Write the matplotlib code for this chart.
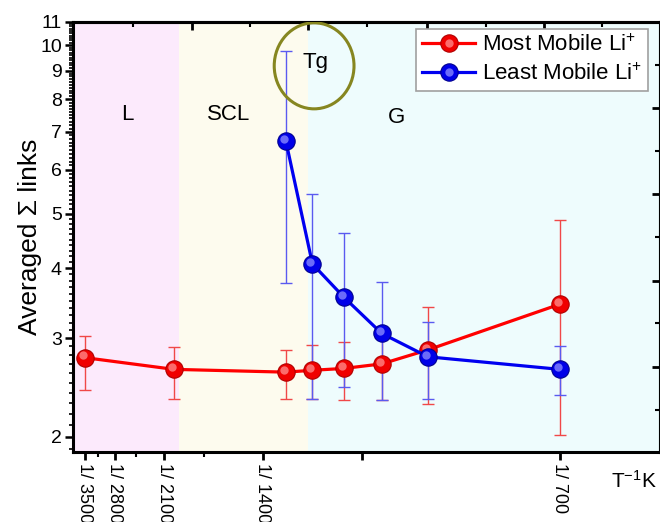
import numpy as np
import matplotlib
matplotlib.use('Agg')
import matplotlib.pyplot as plt
from matplotlib.ticker import FixedLocator, MultipleLocator, NullFormatter, FixedFormatter
from matplotlib.patches import Ellipse
from matplotlib.transforms import offset_copy
from matplotlib.legend_handler import HandlerTuple

plt.rcParams['font.family'] = ['Liberation Sans', 'DejaVu Sans']
plt.rcParams['mathtext.fontset'] = 'custom'
plt.rcParams['mathtext.rm'] = 'Liberation Sans'
plt.rcParams['mathtext.it'] = 'Liberation Sans:italic'

# ---------------- data ----------------
temps_most = [3500, 2000, 1300, 1200, 1100, 1000, 900, 700]
most_mean = [2.77, 2.64, 2.61, 2.63, 2.65, 2.70, 2.86, 3.45]
most_low = [2.43, 2.34, 2.34, 2.34, 2.33, 2.33, 2.29, 2.02]
most_high = [3.03, 2.89, 2.86, 2.92, 2.95, 3.00, 3.41, 4.88]

temps_least = [1300, 1200, 1100, 1000, 900, 700]
least_mean = [6.75, 4.07, 3.55, 3.06, 2.78, 2.64]
least_low = [3.77, 2.34, 2.46, 2.33, 2.34, 2.38]
least_high = [9.77, 5.43, 4.63, 3.78, 3.21, 2.90]

series_labels = ['Most Mobile Li$^{+}$', 'Least Mobile Li$^{+}$']

tick_temps = [3500, 2800, 2100, 1400, 1050, 700]
tick_labels = ['1/ 3500', '1/ 2800', '1/ 2100', '1/ 1400', '', '1/ 700']
minor_temps = [3150, 2450, 1750]
region_bound_temps = [1950, 1215]
region_labels = ['L', 'SCL', 'G']
y_major = [2, 3, 4, 5, 6, 7, 8, 9, 10, 11]
y_major_labels = ['2', '3', '4', '5', '6', '7', '8', '9', '10', '11']

# decorative mirrored ticks on top/right frame (axis units)
top_major = [0.000543, 0.000822, 0.001108, 0.001390]
top_minor = [0.000401, 0.000683, 0.000964, 0.001250, 0.001531]
right_major = [2.67, 3.80, 5.43, 7.74]
right_minor = [2.23, 3.19, 4.55, 6.48, 9.21]

xlim = (0.000257, 0.001669)
ylim = (1.88, 11.0)

# ---------------- figure ----------------
fig = plt.figure(figsize=(6.6, 5.22), dpi=100)
ax = fig.add_axes([0.1106, 0.1341, 0.8889, 0.8238])
ax.set_yscale('log')
ax.set_xlim(*xlim)
ax.set_ylim(*ylim)

b1 = 1.0 / region_bound_temps[0]
b2 = 1.0 / region_bound_temps[1]
ax.axvspan(xlim[0], b1, color='#FCEAFC', lw=0, zorder=0)
ax.axvspan(b1, b2, color='#FDFBEE', lw=0, zorder=0)
ax.axvspan(b2, xlim[1], color='#EEFCFD', lw=0, zorder=0)

x_most = 1.0 / np.array(temps_most)
x_least = 1.0 / np.array(temps_least)
m_mean = np.array(most_mean)
l_mean = np.array(least_mean)

ax.errorbar(x_most, m_mean, yerr=[m_mean - np.array(most_low), np.array(most_high) - m_mean],
            fmt='none', ecolor='#F04848', elinewidth=1.0, capsize=4, capthick=1.0, zorder=2)
ax.errorbar(x_least, l_mean, yerr=[l_mean - np.array(least_low), np.array(least_high) - l_mean],
            fmt='none', ecolor='#5A5AF0', elinewidth=1.0, capsize=4, capthick=1.0, zorder=2)

hl = offset_copy(ax.transData, fig=fig, x=-2.2, y=2.2, units='dots')

l1, = ax.plot(x_most, m_mean, '-o', color='#FF0000', lw=2.3, ms=12.5,
              mfc='#F00000', mec='#B00000', mew=0.8, zorder=3)
h1, = ax.plot(x_most, m_mean, 'o', ms=6, color='#FF9090', alpha=0.75, zorder=3.1,
              transform=hl, mew=0)
l2, = ax.plot(x_least, l_mean, '-o', color='#0000F0', lw=2.3, ms=12.5,
              mfc='#0000E8', mec='#000090', mew=0.8, zorder=4)
h2, = ax.plot(x_least, l_mean, 'o', ms=6, color='#9090FF', alpha=0.75, zorder=4.1,
              transform=hl, mew=0)

# axes ticks
ax.xaxis.set_major_locator(FixedLocator(list(1.0 / np.array(tick_temps))))
ax.xaxis.set_major_formatter(FixedFormatter(tick_labels))
ax.xaxis.set_minor_locator(FixedLocator(list(1.0 / np.array(minor_temps))))
ax.yaxis.set_major_locator(FixedLocator(y_major))
ax.yaxis.set_major_formatter(FixedFormatter(y_major_labels))
ax.yaxis.set_minor_locator(MultipleLocator(0.1))
ax.yaxis.set_minor_formatter(NullFormatter())
ax.tick_params(axis='x', which='major', direction='out', length=6, width=2, labelsize=13,
               labelrotation=-90, pad=2)
ax.tick_params(axis='x', which='minor', direction='out', length=3.5, width=1.5)
ax.tick_params(axis='y', which='major', direction='out', length=6, width=1.8, labelsize=14, pad=2)
ax.tick_params(axis='y', which='minor', direction='out', length=3, width=1.2)
for lab in ax.get_xticklabels():
    lab.set_va('top')
    lab.set_ha('center')

for s in ax.spines.values():
    s.set_linewidth(2.2)

sec_top = ax.secondary_xaxis('top')
sec_top.xaxis.set_major_locator(FixedLocator(top_major))
sec_top.xaxis.set_minor_locator(FixedLocator(top_minor))
sec_top.xaxis.set_major_formatter(NullFormatter())
sec_top.xaxis.set_minor_formatter(NullFormatter())
sec_top.tick_params(which='major', direction='in', length=6, width=2)
sec_top.tick_params(which='minor', direction='in', length=3.5, width=1.5)
sec_top.spines['top'].set_linewidth(2.2)

sec_right = ax.secondary_yaxis('right')
sec_right.yaxis.set_major_locator(FixedLocator(right_major))
sec_right.yaxis.set_minor_locator(FixedLocator(right_minor))
sec_right.yaxis.set_major_formatter(NullFormatter())
sec_right.yaxis.set_minor_formatter(NullFormatter())
sec_right.tick_params(which='major', direction='in', length=6, width=2)
sec_right.tick_params(which='minor', direction='in', length=3.5, width=1.5)
sec_right.spines['right'].set_linewidth(2.2)

ax.set_ylabel('Averaged \u03a3 links', fontsize=19)
ax.yaxis.set_label_coords(-0.052, 0.5)

fig.text(611 / 660, 1 - 481 / 522, 'T$^{\\mathregular{-1}}$K', fontsize=15, ha='left', va='center')

# region labels
ax.text(0.092, 0.784, region_labels[0], transform=ax.transAxes, fontsize=16, ha='center', va='center')
ax.text(0.265, 0.784, region_labels[1], transform=ax.transAxes, fontsize=16, ha='center', va='center')
ax.text(0.552, 0.777, region_labels[2], transform=ax.transAxes, fontsize=16, ha='center', va='center')
ax.text(0.413, 0.906, 'Tg', transform=ax.transAxes, fontsize=16, ha='center', va='center', zorder=6)
ax.add_patch(Ellipse((0.411, 0.898), 0.136, 0.2, transform=ax.transAxes, fill=False,
                     edgecolor='#868620', lw=2.2, zorder=6))

leg = ax.legend([(l1, h1), (l2, h2)], series_labels,
                handler_map={tuple: HandlerTuple(ndivide=1)},
                loc='upper right', bbox_to_anchor=(0.9796, 0.9838), borderaxespad=0,
                fontsize=16, handlelength=2.4, handletextpad=0.3, borderpad=0.25,
                labelspacing=0.35, fancybox=False, framealpha=1, edgecolor='#A0A0A0')
leg.get_frame().set_linewidth(1.2)
leg.set_zorder(10)

fig.savefig('out.png', dpi=100)
